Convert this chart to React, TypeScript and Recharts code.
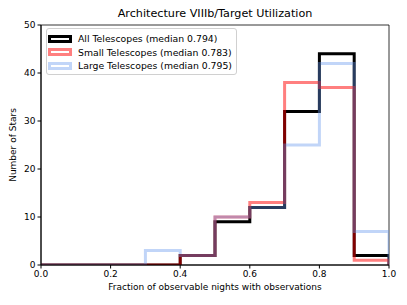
import { Line, LineChart, ReferenceArea, XAxis, YAxis } from "recharts";

const binEdges = [0, 0.1, 0.2, 0.3, 0.4, 0.5, 0.6, 0.7, 0.8, 0.9, 1.0];
const allTelescopes = [0, 0, 0, 0, 2, 9, 12, 32, 44, 2];
const smallTelescopes = [0, 0, 0, 0, 2, 10, 13, 38, 37, 1];
const largeTelescopes = [0, 0, 0, 3, 2, 10, 12, 25, 42, 7];
const xTicks = [0, 0.2, 0.4, 0.6, 0.8, 1.0];
const yTicks = [0, 10, 20, 30, 40, 50];

const SERIES = [
  { key: "all", name: "All Telescopes (median 0.794)", color: "#000000", opacity: 1 },
  { key: "small", name: "Small Telescopes (median 0.783)", color: "#ff0000", opacity: 0.5 },
  { key: "large", name: "Large Telescopes (median 0.795)", color: "#6495ed", opacity: 0.4 },
];

// step outline: last edge drops back to zero
const data = binEdges.map((x, i) => ({
  x,
  all: i < allTelescopes.length ? allTelescopes[i] : 0,
  small: i < smallTelescopes.length ? smallTelescopes[i] : 0,
  large: i < largeTelescopes.length ? largeTelescopes[i] : 0,
}));

const FONT = "'DejaVu Sans', sans-serif";

function HistLegend() {
  return (
    <div style={{ position: "absolute", left: 46, top: 28, border: "1px solid #d0d0d0", borderRadius: 3,
      background: "rgba(255,255,255,0.8)", padding: "3px 4px 1px 1px", fontFamily: FONT, fontSize: 9.3,
      color: "#000", zIndex: 2 }}>
      {SERIES.map((s) => (
        <div key={s.key} style={{ display: "flex", alignItems: "center", height: 13.5 }}>
          <span style={{ display: "inline-block", width: 18, height: 2, border: `3px solid ${s.color}`,
            opacity: s.opacity, marginRight: 6 }} />
          <span style={{ whiteSpace: "nowrap" }}>{s.name}</span>
        </div>
      ))}
    </div>
  );
}

export default function App() {
  return (
    <div style={{ position: "absolute", left: 0, top: 0, width: 407, height: 305, background: "#fff", fontFamily: FONT }}>
      <div style={{ position: "absolute", left: 41, width: 348, top: 7, textAlign: "center", fontSize: 11.2 }}>
        Architecture VIIIb/Target Utilization
      </div>
      <HistLegend />
      <LineChart width={407} height={305} data={data} margin={{ top: 25, right: 18, bottom: 0, left: 0 }}>
        <ReferenceArea x1={0} x2={1} y1={0} y2={50} fill="none" stroke="#000" strokeWidth={0.8} />
        <XAxis type="number" dataKey="x" domain={[0, 1]} ticks={xTicks} allowDataOverflow
          tickFormatter={(v: number) => v.toFixed(1)} height={40} tickSize={3.5}
          stroke="#000" tick={{ fill: "#000", fontSize: 9, fontFamily: FONT }}
          label={{ value: "Fraction of observable nights with observations", position: "insideBottom",
            offset: 15, fill: "#000", fontSize: 9, fontFamily: FONT }} />
        <YAxis type="number" domain={[0, 50]} ticks={yTicks} width={41} tickSize={3.5} allowDataOverflow
          stroke="#000" tick={{ fill: "#000", fontSize: 9, fontFamily: FONT }}
          label={{ value: "Number of Stars", angle: -90, position: "insideLeft", offset: 13,
            style: { textAnchor: "middle" }, fill: "#000", fontSize: 9, fontFamily: FONT }} />
        {SERIES.map((s) => (
          <Line key={s.key} type="stepAfter" dataKey={s.key} name={s.name} stroke={s.color}
            strokeOpacity={s.opacity} strokeWidth={3} dot={false} activeDot={false}
            strokeLinejoin="miter" strokeLinecap="butt" isAnimationActive={false} />
        ))}
      </LineChart>
    </div>
  );
}
